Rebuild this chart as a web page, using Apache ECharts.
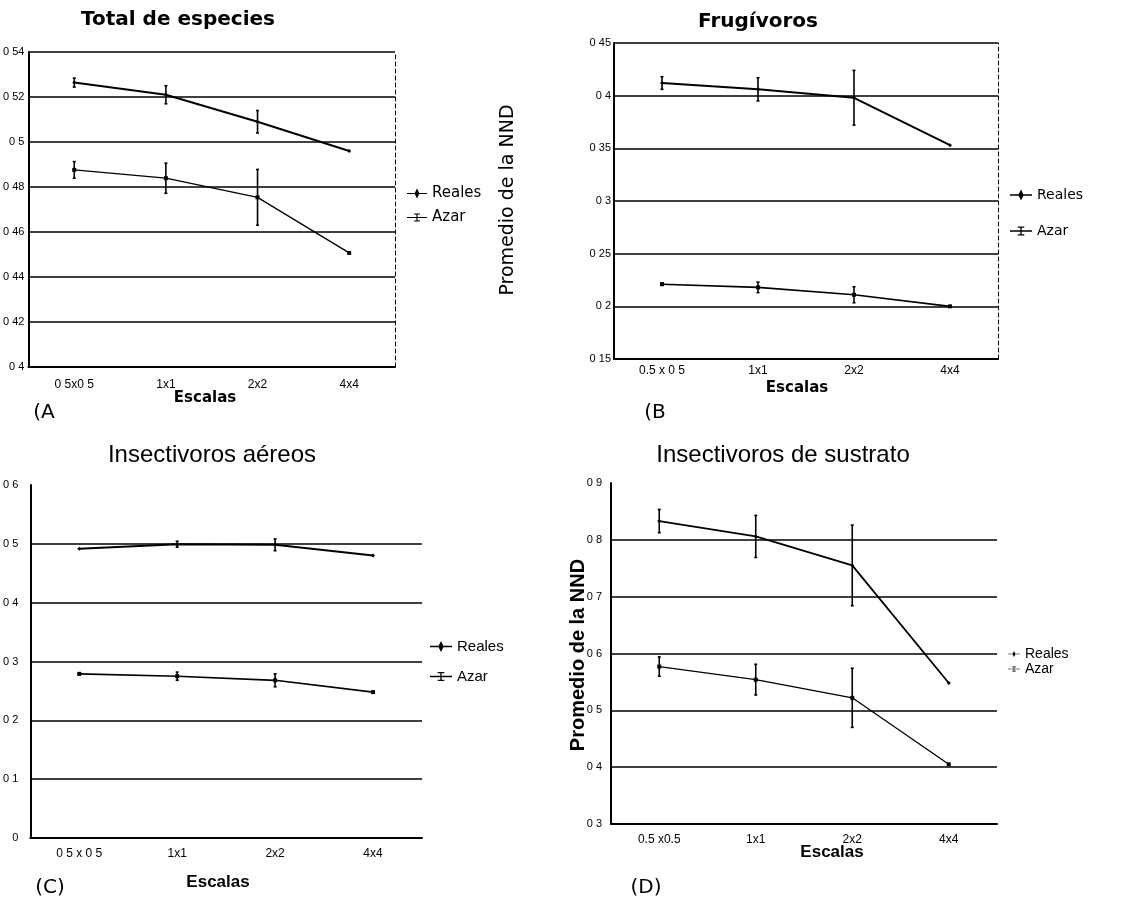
<!DOCTYPE html>
<html>
<head>
<meta charset="utf-8">
<title>Promedio de la NND</title>
<script src="https://cdn.jsdelivr.net/npm/echarts@6/dist/echarts.min.js"></script>
<style>
  html, body { margin: 0; background: #fff; }
  #chart { width: 1143px; height: 905px; }
</style>
</head>
<body>
<div id="chart"></div>
<script>
// x tick labels (as printed in each panel)
var labelsA = ['0 5x0 5', '1x1', '2x2', '4x4'];
var labelsB = ['0.5 x 0 5', '1x1', '2x2', '4x4'];
var labelsC = ['0 5 x 0 5', '1x1', '2x2', '4x4'];
var labelsD = ['0.5 x0.5', '1x1', '2x2', '4x4'];

// (A) Total de especies
var aReales = [0.5264, 0.5210, 0.5090, 0.4960];
var aRealesErr = [0.002, 0.004, 0.005, 0];
var aAzar = [0.4876, 0.4839, 0.4754, 0.4507];
var aAzarErr = [0.0037, 0.0067, 0.0124, 0];

// (B) Frugivoros
var bReales = [0.412, 0.406, 0.398, 0.353];
var bRealesErr = [0.006, 0.011, 0.026, 0];
var bAzar = [0.221, 0.218, 0.211, 0.200];
var bAzarErr = [0.001, 0.005, 0.0076, 0];

// (C) Insectivoros aereos
var cReales = [0.4915, 0.4994, 0.4983, 0.480];
var cRealesErr = [0, 0.005, 0.01, 0];
var cAzar = [0.279, 0.275, 0.268, 0.248];
var cAzarErr = [0, 0.007, 0.011, 0];

// (D) Insectivoros de sustrato
var dReales = [0.833, 0.806, 0.755, 0.548];
var dRealesErr = [0.0205, 0.037, 0.071, 0];
var dAzar = [0.577, 0.554, 0.522, 0.405];
var dAzarErr = [0.017, 0.027, 0.052, 0];

var chart = echarts.init(document.getElementById('chart'));

var sans = 'Liberation Sans';
var verd = 'DejaVu Sans';

function fmt(v) {
    return String(+v.toFixed(2)).replace('.', ' ');
}

function xAx(idx, labels, margin) {
    return {
        type: 'category', gridIndex: idx, data: labels, boundaryGap: true,
        axisTick: { show: false },
        axisLine: { lineStyle: { color: '#000', width: 2 } },
        axisLabel: { color: '#000', fontSize: 12, fontFamily: sans, margin: margin, interval: 0 }
    };
}

function yAx(idx, min, max, step, margin, showMax) {
    return {
        type: 'value', gridIndex: idx, min: min, max: max, interval: step,
        axisLine: { show: true, lineStyle: { color: '#000', width: 2 } },
        axisTick: { show: false },
        axisLabel: { color: '#000', fontSize: 11, fontFamily: sans, margin: margin, formatter: fmt },
        splitLine: { show: true, showMaxLine: showMax, lineStyle: { color: '#000', width: 1.6 } }
    };
}

function rightAx(idx, min, max) {
    return {
        type: 'value', gridIndex: idx, min: min, max: max, position: 'right',
        axisLine: { show: true, lineStyle: { color: '#000', width: 1, type: [4, 3] } },
        axisTick: { show: false }, axisLabel: { show: false }, splitLine: { show: false }
    };
}

function lineS(name, data, idx, width, symbol) {
    return {
        type: 'line', name: name, data: data, xAxisIndex: idx, yAxisIndex: idx,
        symbol: symbol, symbolSize: 4, z: 4,
        lineStyle: { color: '#000', width: width },
        itemStyle: { color: '#000' }
    };
}

function errS(vals, errs, idx) {
    var data = [];
    vals.forEach(function (v, i) {
        if (errs[i] > 0) data.push([i, v - errs[i], v + errs[i]]);
    });
    return {
        type: 'custom', xAxisIndex: idx, yAxisIndex: idx, data: data, z: 5,
        encode: { x: 0, y: [1, 2] },
        renderItem: function (params, api) {
            var lo = api.coord([api.value(0), api.value(1)]);
            var hi = api.coord([api.value(0), api.value(2)]);
            var x = lo[0], st = { stroke: '#000', lineWidth: 1.6 };
            return {
                type: 'group', children: [
                    { type: 'line', shape: { x1: x, y1: lo[1], x2: x, y2: hi[1] }, style: st },
                    { type: 'line', shape: { x1: x - 1.5, y1: lo[1], x2: x + 1.5, y2: lo[1] }, style: st },
                    { type: 'line', shape: { x1: x - 1.5, y1: hi[1], x2: x + 1.5, y2: hi[1] }, style: st }
                ]
            };
        }
    };
}

var iconReales = 'path://M0,4.4h20v1.2h-20z M10,0 L12.5,5 L10,10 L7.5,5Z';
var iconAzar = 'path://M0,4.4h20v1.2h-20z M7,1h6v1h-6z M7,8h6v1h-6z M9.4,1h1.2v8h-1.2z';

function legend(left, top, gap, fs, w, h, font) {
    return {
        orient: 'vertical', left: left, top: top, itemGap: gap,
        itemWidth: w, itemHeight: h,
        textStyle: { color: '#000', fontSize: fs, fontFamily: font, lineHeight: fs, padding: 0 },
        data: [{ name: 'Reales', icon: iconReales }, { name: 'Azar', icon: iconAzar }]
    };
}

function txt(x, y, s, font, rot) {
    var o = {
        type: 'text', x: x, y: y, silent: true,
        style: { text: s, font: font, fill: '#000', textAlign: 'center', textVerticalAlign: 'middle' }
    };
    if (rot) o.rotation = rot;
    return o;
}

var option = {
    animation: false,
    backgroundColor: '#fff',
    grid: [
        { left: 26, top: 52, width: 369, height: 315 },
        { left: 614, top: 43, width: 384, height: 316 },
        { left: 26, top: 485, width: 396, height: 353 },
        { left: 611, top: 483, width: 386, height: 341 }
    ],
    xAxis: [xAx(0, labelsA, 12), xAx(1, labelsB, 6), xAx(2, labelsC, 10), xAx(3, labelsD, 10)],
    yAxis: [
        yAx(0, 0.4, 0.54, 0.02, 4, true),
        yAx(1, 0.15, 0.45, 0.05, 3, true),
        yAx(2, 0, 0.6, 0.1, 12, false),
        yAx(3, 0.3, 0.9, 0.1, 9, false),
        rightAx(0, 0.4, 0.54),
        rightAx(1, 0.15, 0.45)
    ],
    legend: [
        legend(402, 181, 9, 15, 20, 14, verd),
        legend(1005, 183, 22, 14, 22, 14, verd),
        legend(425, 634, 15, 15, 22, 14, sans),
        legend(1003, 642, 1, 14, 12, 10, sans)
    ],
    graphic: [
        txt(178, 20, 'Total de especies', 'bold 20px "DejaVu Sans"'),
        txt(758, 22, 'Frugívoros', 'bold 20px "DejaVu Sans"'),
        txt(212, 455, 'Insectivoros aéreos', '24px "Liberation Sans"'),
        txt(783, 455, 'Insectivoros de sustrato', '24px "Liberation Sans"'),
        txt(205, 398, 'Escalas', 'bold 15px "DejaVu Sans"'),
        txt(797, 388, 'Escalas', 'bold 15px "DejaVu Sans"'),
        txt(218, 882, 'Escalas', 'bold 17px "Liberation Sans"'),
        txt(832, 852, 'Escalas', 'bold 17px "Liberation Sans"'),
        txt(508, 200, 'Promedio de la NND', '19px "DejaVu Sans"', Math.PI / 2),
        txt(578, 655, 'Promedio de la NND', 'bold 20px "Liberation Sans"', Math.PI / 2),
        txt(44, 413, '(A', '20px "DejaVu Sans"'),
        txt(655, 413, '(B', '20px "DejaVu Sans"'),
        txt(50, 888, '(C)', '20px "DejaVu Sans"'),
        txt(646, 888, '(D)', '20px "DejaVu Sans"')
    ],
    series: [
        lineS('Reales', aReales, 0, 2, 'diamond'),
        lineS('Azar', aAzar, 0, 1.3, 'rect'),
        errS(aReales, aRealesErr, 0),
        errS(aAzar, aAzarErr, 0),
        lineS('Reales', bReales, 1, 2, 'diamond'),
        lineS('Azar', bAzar, 1, 1.6, 'rect'),
        errS(bReales, bRealesErr, 1),
        errS(bAzar, bAzarErr, 1),
        lineS('Reales', cReales, 2, 2, 'diamond'),
        lineS('Azar', cAzar, 2, 1.6, 'rect'),
        errS(cReales, cRealesErr, 2),
        errS(cAzar, cAzarErr, 2),
        lineS('Reales', dReales, 3, 1.8, 'diamond'),
        lineS('Azar', dAzar, 3, 1.3, 'rect'),
        errS(dReales, dRealesErr, 3),
        errS(dAzar, dAzarErr, 3)
    ]
};

chart.setOption(option);
</script>
</body>
</html>
